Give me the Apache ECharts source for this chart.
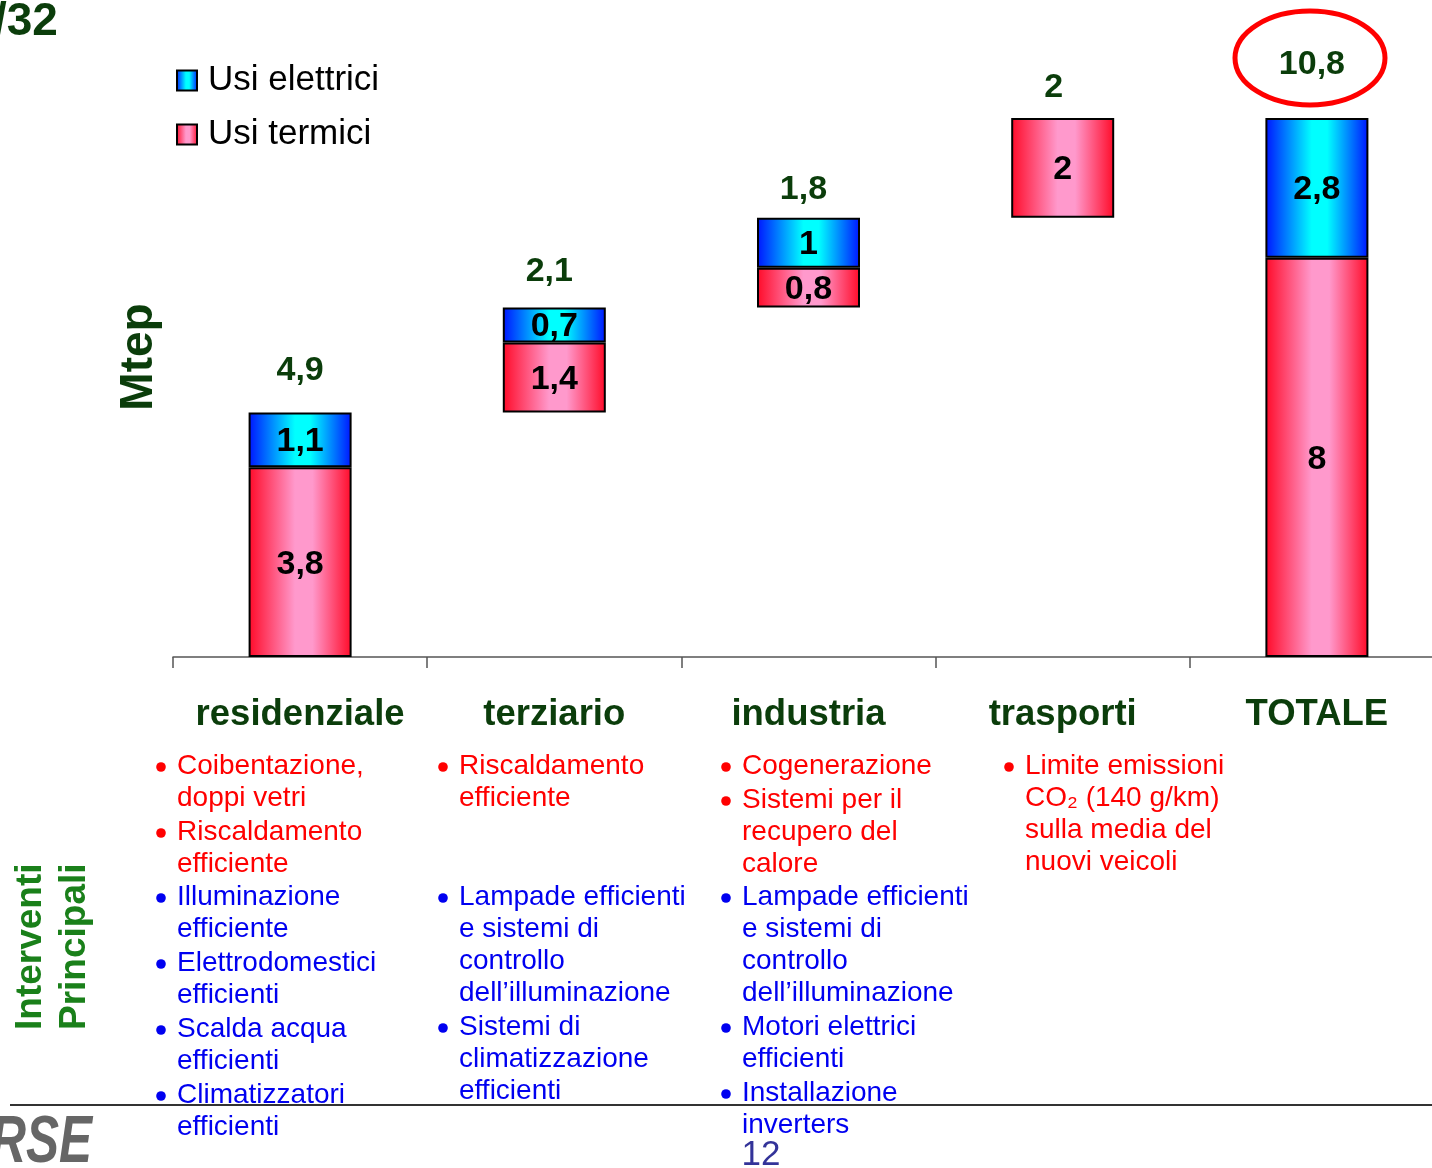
<!DOCTYPE html>
<html>
<head>
<meta charset="utf-8">
<script src="https://cdn.jsdelivr.net/npm/echarts@6/dist/echarts.min.js"></script>
<style>
  html, body { margin: 0; padding: 0; background: #fff; }
  #chart { width: 1432px; height: 1168px; }
</style>
</head>
<body>
<div id="chart"></div>
<script>
var categories = ['residenziale', 'terziario', 'industria', 'trasporti', 'TOTALE'];
var usiTermici = [3.8, 1.4, 0.8, 2, 8];
var usiElettrici = [1.1, 0.7, 1, null, 2.8];
var totali = [4.9, 2.1, 1.8, 2, 10.8];

// interventi principali, one list per column
var interventiTermici = [
  [['Coibentazione,', 'doppi vetri'], ['Riscaldamento', 'efficiente']],
  [['Riscaldamento', 'efficiente']],
  [['Cogenerazione'], ['Sistemi per il', 'recupero del', 'calore']],
  [['Limite emissioni', 'CO\u2082 (140 g/km)', 'sulla media del', 'nuovi veicoli']]
];
var interventiElettrici = [
  [['Illuminazione', 'efficiente'], ['Elettrodomestici', 'efficienti'], ['Scalda acqua', 'efficienti'], ['Climatizzatori', 'efficienti']],
  [['Lampade efficienti', 'e sistemi di', 'controllo', 'dell\u2019illuminazione'], ['Sistemi di', 'climatizzazione', 'efficienti']],
  [['Lampade efficienti', 'e sistemi di', 'controllo', 'dell\u2019illuminazione'], ['Motori elettrici', 'efficienti'], ['Installazione', 'inverters']],
  []
];

var FONT = '"Liberation Sans", Arial, sans-serif';
var GREEN = '#0b3d0b';

// waterfall base: running sum for the sectors, the total starts from 0
var base = [];
var acc = 0;
for (var i = 0; i < categories.length; i++) {
  if (i === categories.length - 1) {
    base.push(0);
  } else {
    base.push(Math.round(acc * 10) / 10);
    acc += totali[i];
  }
}

var labelGap = [24, 18, 11, 13, 36];
var labelDx = [0, -5, -5, -9, -5];
var totalPoints = totali.map(function (t, i) {
  return {
    value: [i, base[i] + t],
    label: { distance: labelGap[i], offset: [labelDx[i], 0] }
  };
});

function comma(v) {
  return String(v).replace('.', ',');
}

var redGrad = new echarts.graphic.LinearGradient(0, 0, 1, 0, [
  { offset: 0, color: '#ff0a28' },
  { offset: 0.45, color: '#ff99cc' },
  { offset: 0.62, color: '#ff99cc' },
  { offset: 1, color: '#ff0a28' }
]);
var blueGrad = new echarts.graphic.LinearGradient(0, 0, 1, 0, [
  { offset: 0, color: '#0014ff' },
  { offset: 0.45, color: '#00ffff' },
  { offset: 0.6, color: '#00ffff' },
  { offset: 1, color: '#0014ff' }
]);

var barLabel = {
  show: true,
  position: 'inside',
  offset: [0, 2],
  color: '#000',
  fontFamily: FONT,
  fontWeight: 'bold',
  fontSize: 34,
  formatter: function (p) { return comma(p.value); }
};

// text blocks below the chart
var graphics = [];
var colX = [177, 459, 742, 1025];
function addList(items, col, y0, color) {
  var y = y0;
  items.forEach(function (lines) {
    graphics.push({
      type: 'circle',
      shape: { cx: colX[col] - 16, cy: y + 1, r: 4.8 },
      style: { fill: color }
    });
    lines.forEach(function (ln) {
      graphics.push({
        type: 'text',
        x: colX[col], y: y,
        style: {
          text: ln, fill: color, fontFamily: FONT, fontSize: 28,
          textAlign: 'left', textVerticalAlign: 'middle'
        }
      });
      y += 32;
    });
    y += 2;
  });
}
interventiTermici.forEach(function (items, c) { addList(items, c, 766, '#ff0000'); });
interventiElettrici.forEach(function (items, c) { addList(items, c, 897, '#0000f0'); });

graphics.push(
  {
    type: 'text', x: -6, y: 22,
    style: { text: '/32', fill: GREEN, fontFamily: FONT, fontWeight: 'bold', fontSize: 46, textAlign: 'left', textVerticalAlign: 'middle' }
  },
  {
    type: 'text', x: 139, y: 357, rotation: Math.PI / 2,
    style: { text: 'Mtep', fill: GREEN, fontFamily: FONT, fontWeight: 'bold', fontSize: 46, textAlign: 'center', textVerticalAlign: 'middle' }
  },
  {
    type: 'text', x: 31, y: 1030, rotation: Math.PI / 2,
    style: { text: 'Interventi', fill: '#1a801a', fontFamily: FONT, fontWeight: 'bold', fontSize: 37, textAlign: 'left', textVerticalAlign: 'middle' }
  },
  {
    type: 'text', x: 75, y: 1030, rotation: Math.PI / 2,
    style: { text: 'Principali', fill: '#1a801a', fontFamily: FONT, fontWeight: 'bold', fontSize: 37, textAlign: 'left', textVerticalAlign: 'middle' }
  },
  {
    type: 'ellipse',
    shape: { cx: 1310, cy: 58, rx: 75, ry: 47 },
    style: { fill: null, stroke: '#ff0000', lineWidth: 5 }
  },
  {
    type: 'line',
    shape: { x1: 10, y1: 1105, x2: 1432, y2: 1105 },
    style: { stroke: '#333', lineWidth: 2 }
  },
  {
    type: 'text', x: 92, y: 1144, scaleX: 0.75,
    style: { text: 'RSE', fill: '#666', fontFamily: FONT, fontWeight: 'bold', fontStyle: 'italic', fontSize: 66, textAlign: 'right', textVerticalAlign: 'middle' }
  },
  {
    type: 'text', x: 761, y: 1155,
    style: { text: '12', fill: '#333399', fontFamily: FONT, fontSize: 35, textAlign: 'center', textVerticalAlign: 'middle' }
  }
);

var chart = echarts.init(document.getElementById('chart'));
chart.setOption({
  animation: false,
  backgroundColor: '#fff',
  grid: { left: 173, width: 1271, top: 58, bottom: 511, containLabel: false, outerBoundsMode: 'none' },
  legend: {
    data: ['Usi elettrici', 'Usi termici'],
    orient: 'vertical',
    left: 176,
    top: 63,
    padding: 0,
    itemWidth: 20,
    itemHeight: 20,
    itemGap: 19,
    icon: 'rect',
    textStyle: { fontFamily: FONT, fontSize: 35, color: '#000', padding: [0, 0, 0, 6] }
  },
  xAxis: {
    type: 'category',
    data: categories,
    axisLine: { lineStyle: { color: '#555', width: 1.5 } },
    axisTick: { show: true, length: 11, lineStyle: { color: '#555', width: 1.5 } },
    axisLabel: { interval: 0, margin: 39, color: GREEN, fontFamily: FONT, fontWeight: 'bold', fontSize: 36.5 }
  },
  yAxis: { type: 'value', min: 0, max: 12, show: false },
  series: [
    {
      name: 'base',
      type: 'bar',
      stack: 'w',
      barWidth: 103,
      silent: true,
      itemStyle: { color: 'transparent' },
      data: base
    },
    {
      name: 'Usi termici',
      type: 'bar',
      stack: 'w',
      barWidth: 103,
      itemStyle: { color: redGrad, borderColor: '#000', borderWidth: 2 },
      label: barLabel,
      data: usiTermici
    },
    {
      name: 'Usi elettrici',
      type: 'bar',
      stack: 'w',
      barWidth: 103,
      itemStyle: { color: blueGrad, borderColor: '#000', borderWidth: 2 },
      label: barLabel,
      data: usiElettrici
    },
    {
      name: 'totali',
      type: 'scatter',
      symbolSize: 1,
      itemStyle: { color: 'transparent', opacity: 1 },
      label: {
        show: true,
        position: 'top',
        color: GREEN,
        opacity: 1,
        fontFamily: FONT,
        fontWeight: 'bold',
        fontSize: 34,
        formatter: function (p) { return comma(totali[p.dataIndex]); }
      },
      data: totalPoints
    }
  ],
  graphic: graphics
});
</script>
</body>
</html>
